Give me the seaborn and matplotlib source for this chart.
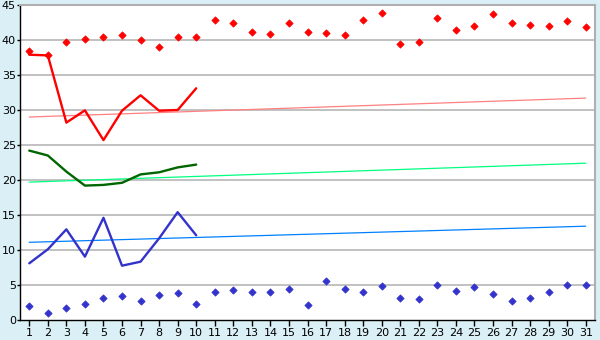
import matplotlib
matplotlib.use("Agg")
import matplotlib.pyplot as plt
import seaborn as sns
import pandas as pd

days = list(range(1, 32))
days10 = list(range(1, 11))

red_points = [38.4, 37.9, 39.7, 40.2, 40.5, 40.7, 40.0, 39.0, 40.4, 40.5,
              42.8, 42.5, 41.1, 40.8, 42.4, 41.2, 40.95, 40.7, 42.8, 43.8,
              39.4, 39.7, 43.2, 41.4, 41.95, 43.7, 42.5, 42.2, 41.95, 42.7, 41.8]
blue_points = [1.95, 0.95, 1.67, 2.24, 3.1, 3.38, 2.67, 3.52, 3.81, 2.24,
               3.95, 4.24, 3.95, 3.95, 4.38, 2.1, 5.52, 4.38, 3.95, 4.81,
               3.1, 2.95, 4.95, 4.1, 4.67, 3.67, 2.67, 3.1, 3.95, 4.95, 4.95]

red_line = [37.9, 37.8, 28.2, 29.95, 25.7, 29.9, 32.1, 29.9, 30.0, 33.1]
green_line = [24.2, 23.5, 21.2, 19.2, 19.3, 19.6, 20.8, 21.1, 21.8, 22.2]
blue_line = [8.1, 10.1, 12.95, 9.05, 14.6, 7.76, 8.33, 11.67, 15.4, 12.1]

trend_days = [1, 31]
red_trend = [29.0, 31.7]
green_trend = [19.7, 22.4]
blue_trend = [11.1, 13.4]

y_ticks = list(range(0, 50, 5))

sns.set_theme(style="white")
plt.rcParams['font.family'] = ['DejaVu Sans']

bg = "#daeff6"
fig = plt.figure(figsize=(6, 3.4), dpi=100, facecolor=bg)
ax = fig.add_axes([20/600, 20/340, 575/600, 315/340])
ax.set_facecolor("white")

for v in y_ticks[1:]:
    ax.axhline(v, color="#b0b0b0", lw=1.1, zorder=0)

pts = pd.DataFrame({"day": days, "red": red_points, "blue": blue_points})
lines = pd.DataFrame({"day": days10, "red": red_line, "green": green_line, "blue": blue_line})
trends = pd.DataFrame({"day": trend_days, "red": red_trend, "green": green_trend, "blue": blue_trend})

sns.lineplot(data=trends, x="day", y="red", color="#ff8080", lw=0.9, ax=ax)
sns.lineplot(data=trends, x="day", y="green", color="#00ff80", lw=0.9, ax=ax)
sns.lineplot(data=trends, x="day", y="blue", color="#0080ff", lw=0.9, ax=ax)

sns.lineplot(data=lines, x="day", y="red", color="#ff0000", lw=1.7, ax=ax)
sns.lineplot(data=lines, x="day", y="green", color="#006600", lw=1.7, ax=ax)
sns.lineplot(data=lines, x="day", y="blue", color="#3333cc", lw=1.7, ax=ax)

sns.scatterplot(data=pts, x="day", y="red", color="#ff0000", marker="D", s=14,
                edgecolor="#ff0000", linewidth=0.5, ax=ax, zorder=5)
sns.scatterplot(data=pts, x="day", y="blue", color="#3333cc", marker="D", s=14,
                edgecolor="#3333cc", linewidth=0.5, ax=ax, zorder=5)

ax.set_xlim(0.5, 31.5)
ax.set_ylim(0, 45)
ax.set_xticks(days)
ax.set_xticklabels([str(d) for d in days])
ax.set_yticks(y_ticks)
ax.set_yticklabels([str(v) for v in y_ticks])
ax.set_xlabel("")
ax.set_ylabel("")

ax.tick_params(axis="x", bottom=True, length=4, width=1, color="#000000",
               labelsize=8, pad=1.5, labelcolor="#000000")
ax.tick_params(axis="y", left=True, length=2.2, width=1, color="#000000",
               labelsize=8, pad=0.8, labelcolor="#000000")

for side in ["left", "bottom"]:
    ax.spines[side].set_color("#000000")
    ax.spines[side].set_linewidth(1.0)
for side in ["top", "right"]:
    ax.spines[side].set_color("#b0b0b0")
    ax.spines[side].set_linewidth(1.5)
    ax.spines[side].set_visible(True)

fig.savefig("out.png", dpi=100, facecolor=bg)
